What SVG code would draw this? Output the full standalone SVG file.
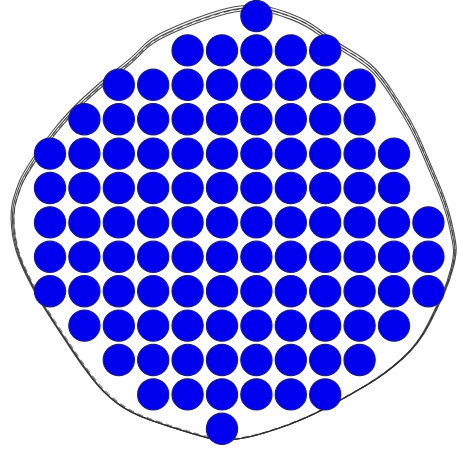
<svg xmlns="http://www.w3.org/2000/svg" width="459" height="453" viewBox="0 0 459 453">
<defs>
<style>
.o{fill:none;stroke:#2e2e2e;stroke-width:1.1;stroke-linejoin:round;opacity:0.85}
.b{fill:#0000ee;stroke:#1a1a90;stroke-width:1.2}
</style>
<path id="ring" d="M 166.5,30.5 Q 183,23 196.5,18 Q 210,13 222.5,9.5 Q 235,6 245.5,5.5 Q 256,5 265.5,6.5 Q 275,8 291,14 Q 307,20 320,30 Q 333,40 350,50 Q 367,60 375,68.5 Q 383,77 391.5,90 Q 400,103 407.5,115.5 Q 415,128 422.5,145.5 Q 430,163 438.5,183 Q 447,203 451,220 Q 455,237 456,245 Q 457,253 453.5,266.5 Q 450,280 445,291.5 Q 440,303 430,323 Q 420,343 403.5,358 Q 387,373 367,385 Q 347,397 325,408.5 Q 303,420 278,428.5 Q 253,437 237.5,439 Q 222,441 214.5,439.5 Q 207,438 188.5,432.5 Q 170,427 150,420 Q 130,413 116.5,403 Q 103,393 91.5,378 Q 80,363 71.5,350 Q 63,337 53,322 Q 43,307 33,288.5 Q 23,270 18,256.5 Q 13,243 11.5,226.5 Q 10,210 13.5,198.5 Q 17,187 20,180 Q 23,173 33,158 Q 43,143 55,128 Q 67,113 83.5,97.5 Q 100,82 116.5,69.5 Q 133,57 141.5,47.5 Q 150,38 166.5,30.5 Z"/>
</defs>
<rect width="459" height="453" fill="#ffffff"/>
<g id="outline">
<use href="#ring" class="o"/>
<use href="#ring" class="o" transform="translate(232,226.3) scale(0.994) translate(-232,-225)"/>
<use href="#ring" class="o" transform="translate(232,227.6) scale(0.988) translate(-232,-225)"/>
<use href="#ring" class="o" transform="translate(233,226) scale(0.991) translate(-232,-225)" style="stroke-dasharray:6 4;opacity:0.6"/>
</g>
<g id="circles">
<circle class="b" cx="256.4" cy="16" r="15.6"/>
<circle class="b" cx="187.6" cy="50.4" r="15.6"/><circle class="b" cx="222" cy="50.4" r="15.6"/><circle class="b" cx="256.4" cy="50.4" r="15.6"/><circle class="b" cx="290.8" cy="50.4" r="15.6"/><circle class="b" cx="325.2" cy="50.4" r="15.6"/>
<circle class="b" cx="118.8" cy="84.8" r="15.6"/><circle class="b" cx="153.2" cy="84.8" r="15.6"/><circle class="b" cx="187.6" cy="84.8" r="15.6"/><circle class="b" cx="222" cy="84.8" r="15.6"/><circle class="b" cx="256.4" cy="84.8" r="15.6"/><circle class="b" cx="290.8" cy="84.8" r="15.6"/><circle class="b" cx="325.2" cy="84.8" r="15.6"/><circle class="b" cx="359.6" cy="84.8" r="15.6"/>
<circle class="b" cx="84.4" cy="119.2" r="15.6"/><circle class="b" cx="118.8" cy="119.2" r="15.6"/><circle class="b" cx="153.2" cy="119.2" r="15.6"/><circle class="b" cx="187.6" cy="119.2" r="15.6"/><circle class="b" cx="222" cy="119.2" r="15.6"/><circle class="b" cx="256.4" cy="119.2" r="15.6"/><circle class="b" cx="290.8" cy="119.2" r="15.6"/><circle class="b" cx="325.2" cy="119.2" r="15.6"/><circle class="b" cx="359.6" cy="119.2" r="15.6"/>
<circle class="b" cx="50" cy="153.6" r="15.6"/><circle class="b" cx="84.4" cy="153.6" r="15.6"/><circle class="b" cx="118.8" cy="153.6" r="15.6"/><circle class="b" cx="153.2" cy="153.6" r="15.6"/><circle class="b" cx="187.6" cy="153.6" r="15.6"/><circle class="b" cx="222" cy="153.6" r="15.6"/><circle class="b" cx="256.4" cy="153.6" r="15.6"/><circle class="b" cx="290.8" cy="153.6" r="15.6"/><circle class="b" cx="325.2" cy="153.6" r="15.6"/><circle class="b" cx="359.6" cy="153.6" r="15.6"/><circle class="b" cx="394" cy="153.6" r="15.6"/>
<circle class="b" cx="50" cy="188" r="15.6"/><circle class="b" cx="84.4" cy="188" r="15.6"/><circle class="b" cx="118.8" cy="188" r="15.6"/><circle class="b" cx="153.2" cy="188" r="15.6"/><circle class="b" cx="187.6" cy="188" r="15.6"/><circle class="b" cx="222" cy="188" r="15.6"/><circle class="b" cx="256.4" cy="188" r="15.6"/><circle class="b" cx="290.8" cy="188" r="15.6"/><circle class="b" cx="325.2" cy="188" r="15.6"/><circle class="b" cx="359.6" cy="188" r="15.6"/><circle class="b" cx="394" cy="188" r="15.6"/>
<circle class="b" cx="50" cy="222.4" r="15.6"/><circle class="b" cx="84.4" cy="222.4" r="15.6"/><circle class="b" cx="118.8" cy="222.4" r="15.6"/><circle class="b" cx="153.2" cy="222.4" r="15.6"/><circle class="b" cx="187.6" cy="222.4" r="15.6"/><circle class="b" cx="222" cy="222.4" r="15.6"/><circle class="b" cx="256.4" cy="222.4" r="15.6"/><circle class="b" cx="290.8" cy="222.4" r="15.6"/><circle class="b" cx="325.2" cy="222.4" r="15.6"/><circle class="b" cx="359.6" cy="222.4" r="15.6"/><circle class="b" cx="394" cy="222.4" r="15.6"/><circle class="b" cx="428.4" cy="222.4" r="15.6"/>
<circle class="b" cx="50" cy="256.8" r="15.6"/><circle class="b" cx="84.4" cy="256.8" r="15.6"/><circle class="b" cx="118.8" cy="256.8" r="15.6"/><circle class="b" cx="153.2" cy="256.8" r="15.6"/><circle class="b" cx="187.6" cy="256.8" r="15.6"/><circle class="b" cx="222" cy="256.8" r="15.6"/><circle class="b" cx="256.4" cy="256.8" r="15.6"/><circle class="b" cx="290.8" cy="256.8" r="15.6"/><circle class="b" cx="325.2" cy="256.8" r="15.6"/><circle class="b" cx="359.6" cy="256.8" r="15.6"/><circle class="b" cx="394" cy="256.8" r="15.6"/><circle class="b" cx="428.4" cy="256.8" r="15.6"/>
<circle class="b" cx="50" cy="291.2" r="15.6"/><circle class="b" cx="84.4" cy="291.2" r="15.6"/><circle class="b" cx="118.8" cy="291.2" r="15.6"/><circle class="b" cx="153.2" cy="291.2" r="15.6"/><circle class="b" cx="187.6" cy="291.2" r="15.6"/><circle class="b" cx="222" cy="291.2" r="15.6"/><circle class="b" cx="256.4" cy="291.2" r="15.6"/><circle class="b" cx="290.8" cy="291.2" r="15.6"/><circle class="b" cx="325.2" cy="291.2" r="15.6"/><circle class="b" cx="359.6" cy="291.2" r="15.6"/><circle class="b" cx="394" cy="291.2" r="15.6"/><circle class="b" cx="428.4" cy="291.2" r="15.6"/>
<circle class="b" cx="84.4" cy="325.6" r="15.6"/><circle class="b" cx="118.8" cy="325.6" r="15.6"/><circle class="b" cx="153.2" cy="325.6" r="15.6"/><circle class="b" cx="187.6" cy="325.6" r="15.6"/><circle class="b" cx="222" cy="325.6" r="15.6"/><circle class="b" cx="256.4" cy="325.6" r="15.6"/><circle class="b" cx="290.8" cy="325.6" r="15.6"/><circle class="b" cx="325.2" cy="325.6" r="15.6"/><circle class="b" cx="359.6" cy="325.6" r="15.6"/><circle class="b" cx="394" cy="325.6" r="15.6"/>
<circle class="b" cx="118.8" cy="360" r="15.6"/><circle class="b" cx="153.2" cy="360" r="15.6"/><circle class="b" cx="187.6" cy="360" r="15.6"/><circle class="b" cx="222" cy="360" r="15.6"/><circle class="b" cx="256.4" cy="360" r="15.6"/><circle class="b" cx="290.8" cy="360" r="15.6"/><circle class="b" cx="325.2" cy="360" r="15.6"/><circle class="b" cx="359.6" cy="360" r="15.6"/>
<circle class="b" cx="153.2" cy="394.4" r="15.6"/><circle class="b" cx="187.6" cy="394.4" r="15.6"/><circle class="b" cx="222" cy="394.4" r="15.6"/><circle class="b" cx="256.4" cy="394.4" r="15.6"/><circle class="b" cx="290.8" cy="394.4" r="15.6"/><circle class="b" cx="325.2" cy="394.4" r="15.6"/>
<circle class="b" cx="222" cy="428.8" r="15.6"/>
</g>
</svg>
